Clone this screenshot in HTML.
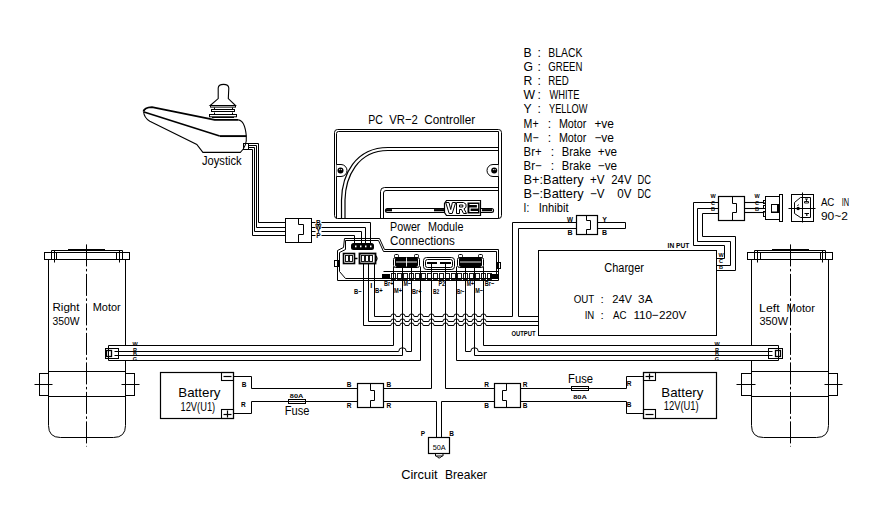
<!DOCTYPE html>
<html><head><meta charset="utf-8"><style>
html,body{margin:0;padding:0;background:#fff;}
svg{display:block;}
text{font-family:"Liberation Sans",sans-serif;fill:#000;stroke:none;}
</style></head><body>
<svg width="890" height="507" viewBox="0 0 890 507">
<rect x="0" y="0" width="890" height="507" fill="#fff"/>
<g stroke="#000" fill="none" stroke-linecap="butt">
<text x="523.6" y="56.5" font-size="12.2" text-anchor="start">B</text>
<text x="537.5" y="56.5" font-size="12.2" text-anchor="start">:</text>
<text x="548.3" y="56.5" font-size="12.2" text-anchor="start" textLength="34" lengthAdjust="spacingAndGlyphs">BLACK</text>
<text x="523.6" y="70.5" font-size="12.2" text-anchor="start">G</text>
<text x="537.5" y="70.5" font-size="12.2" text-anchor="start">:</text>
<text x="548.3" y="70.5" font-size="12.2" text-anchor="start" textLength="34" lengthAdjust="spacingAndGlyphs">GREEN</text>
<text x="523.6" y="84.5" font-size="12.2" text-anchor="start">R</text>
<text x="537.5" y="84.5" font-size="12.2" text-anchor="start">:</text>
<text x="548.3" y="84.5" font-size="12.2" text-anchor="start" textLength="20.5" lengthAdjust="spacingAndGlyphs">RED</text>
<text x="523.6" y="98.5" font-size="12.2" text-anchor="start">W</text>
<text x="537.5" y="98.5" font-size="12.2" text-anchor="start">:</text>
<text x="549.4" y="98.5" font-size="12.2" text-anchor="start" textLength="30" lengthAdjust="spacingAndGlyphs">WHITE</text>
<text x="523.6" y="112.5" font-size="12.2" text-anchor="start">Y</text>
<text x="537.5" y="112.5" font-size="12.2" text-anchor="start">:</text>
<text x="549" y="112.5" font-size="12.2" text-anchor="start" textLength="38.5" lengthAdjust="spacingAndGlyphs">YELLOW</text>
<text x="523.6" y="127.5" font-size="12.2" text-anchor="start" textLength="15" lengthAdjust="spacingAndGlyphs">M+</text>
<text x="547.8" y="127.5" font-size="12.2" text-anchor="start">:</text>
<text x="558.9" y="127.5" font-size="12.2" text-anchor="start" textLength="27.5" lengthAdjust="spacingAndGlyphs">Motor</text>
<text x="594.4" y="127.5" font-size="12.2" text-anchor="start" textLength="19.6" lengthAdjust="spacingAndGlyphs">+ve</text>
<text x="523.6" y="141.5" font-size="12.2" text-anchor="start" textLength="15" lengthAdjust="spacingAndGlyphs">M−</text>
<text x="547.8" y="141.5" font-size="12.2" text-anchor="start">:</text>
<text x="558.9" y="141.5" font-size="12.2" text-anchor="start" textLength="27.5" lengthAdjust="spacingAndGlyphs">Motor</text>
<text x="594.4" y="141.5" font-size="12.2" text-anchor="start" textLength="19.6" lengthAdjust="spacingAndGlyphs">−ve</text>
<text x="523.6" y="155.5" font-size="12.2" text-anchor="start" textLength="18" lengthAdjust="spacingAndGlyphs">Br+</text>
<text x="550.7" y="155.5" font-size="12.2" text-anchor="start">:</text>
<text x="561.8" y="155.5" font-size="12.2" text-anchor="start" textLength="29.3" lengthAdjust="spacingAndGlyphs">Brake</text>
<text x="597.8" y="155.5" font-size="12.2" text-anchor="start" textLength="19.2" lengthAdjust="spacingAndGlyphs">+ve</text>
<text x="523.6" y="169.5" font-size="12.2" text-anchor="start" textLength="18" lengthAdjust="spacingAndGlyphs">Br−</text>
<text x="550.7" y="169.5" font-size="12.2" text-anchor="start">:</text>
<text x="561.8" y="169.5" font-size="12.2" text-anchor="start" textLength="29.3" lengthAdjust="spacingAndGlyphs">Brake</text>
<text x="597.8" y="169.5" font-size="12.2" text-anchor="start" textLength="19.2" lengthAdjust="spacingAndGlyphs">−ve</text>
<text x="523.6" y="183.5" font-size="12.2" text-anchor="start" textLength="60" lengthAdjust="spacingAndGlyphs">B+:Battery</text>
<text x="589.9" y="183.5" font-size="12.2" text-anchor="start" textLength="14.6" lengthAdjust="spacingAndGlyphs">+V</text>
<text x="611.2" y="183.5" font-size="12.2" text-anchor="start" textLength="20.3" lengthAdjust="spacingAndGlyphs">24V</text>
<text x="637.5" y="183.5" font-size="12.2" text-anchor="start" textLength="13.5" lengthAdjust="spacingAndGlyphs">DC</text>
<text x="523.6" y="197.5" font-size="12.2" text-anchor="start" textLength="60" lengthAdjust="spacingAndGlyphs">B−:Battery</text>
<text x="589.9" y="197.5" font-size="12.2" text-anchor="start" textLength="14.6" lengthAdjust="spacingAndGlyphs">−V</text>
<text x="617.3" y="197.5" font-size="12.2" text-anchor="start" textLength="14.2" lengthAdjust="spacingAndGlyphs">0V</text>
<text x="637.5" y="197.5" font-size="12.2" text-anchor="start" textLength="13.5" lengthAdjust="spacingAndGlyphs">DC</text>
<text x="523.6" y="211.5" font-size="12.2" text-anchor="start" textLength="5.6" lengthAdjust="spacingAndGlyphs">I:</text>
<text x="538.7" y="211.5" font-size="12.2" text-anchor="start" textLength="29.8" lengthAdjust="spacingAndGlyphs">Inhibit</text>
<path d="M143.5,111.5 C144,109 148,107.3 152,107.1 L214.7,119.9 L238.4,119.9" stroke-width="1.9" fill="none"/>
<path d="M238.4,119.9 C243,120.5 245.5,127 246.3,136.1 C246.8,142 245,148 240.4,152.4 L202.9,152.4 L196.8,144.4 L149.8,121.3 C146,119 144,116 143.5,111.5" stroke-width="1.1" fill="none"/>
<path d="M144,112 L219.7,136.1" stroke-width="1.6" fill="none"/>
<path d="M219.7,136.1 L246.3,136.1" stroke-width="1.9" fill="none"/>
<path d="M218.2,98.6 L218.2,88 Q218.5,84.4 223.5,84.4 Q228.5,84.4 228.8,88 L228.3,98.6 L235.5,105.5 L210.2,105.5 Z" stroke-width="1.1" fill="none"/>
<rect x="210.5" y="105.5" width="25" height="1.6" stroke-width="1.0" fill="none"/>
<rect x="211.5" y="109.5" width="23" height="2" stroke-width="1.0" fill="none"/>
<rect x="209.5" y="114.5" width="27" height="2.3" stroke-width="1.0" fill="none"/>
<line x1="214.5" y1="107.5" x2="214.5" y2="109.5" stroke-width="1.0"/>
<line x1="232.5" y1="107.5" x2="232.5" y2="109.5" stroke-width="1.0"/>
<line x1="214.5" y1="112.5" x2="214.5" y2="114.5" stroke-width="1.0"/>
<line x1="232.5" y1="112.5" x2="232.5" y2="114.5" stroke-width="1.0"/>
<path d="M212,117.5 L234,117.5" stroke-width="1.0" fill="none"/>
<rect x="243.5" y="143.5" width="5" height="6" rx="0" stroke-width="1.0" fill="none"/>
<text x="202" y="165" font-size="12" text-anchor="start" textLength="39.6" lengthAdjust="spacingAndGlyphs">Joystick</text>
<polyline points="248.5,143.5 258.5,143.5 258.5,222.5 285.5,222.5" stroke-width="1.0"/>
<polyline points="248.5,145.5 256.5,145.5 256.5,227.5 285.5,227.5" stroke-width="1.0"/>
<polyline points="248.5,147.5 254.5,147.5 254.5,231.5 285.5,231.5" stroke-width="1.0"/>
<polyline points="248.5,149.5 252.5,149.5 252.5,235.5 285.5,235.5" stroke-width="1.0"/>
<rect x="285.5" y="218.5" width="26" height="24" rx="0" stroke-width="1.0" fill="none"/>
<polyline points="298.5,218.5 298.5,224.5 303.5,224.5 303.5,234.5 298.5,234.5 298.5,242.5" stroke-width="1.0"/>
<line x1="311.5" y1="222.5" x2="315.5" y2="222.5" stroke-width="1.0"/>
<line x1="311.5" y1="227.5" x2="315.5" y2="227.5" stroke-width="1.0"/>
<line x1="311.5" y1="231.5" x2="315.5" y2="231.5" stroke-width="1.0"/>
<line x1="311.5" y1="235.5" x2="315.5" y2="235.5" stroke-width="1.0"/>
<polyline points="321.5,222.5 370.5,222.5 370.5,243.5" stroke-width="1.0"/>
<polyline points="321.5,227.5 365.5,227.5 365.5,243.5" stroke-width="1.0"/>
<polyline points="321.5,231.5 361.5,231.5 361.5,243.5" stroke-width="1.0"/>
<polyline points="321.5,235.5 354.5,235.5 354.5,243.5" stroke-width="1.0"/>
<text x="318.3" y="224.5" font-size="6.5" text-anchor="middle" font-weight="bold">B</text>
<text x="318.3" y="229" font-size="6.5" text-anchor="middle" font-weight="bold">W</text>
<text x="318.3" y="233" font-size="6.5" text-anchor="middle" font-weight="bold">Y</text>
<text x="318.3" y="237.5" font-size="6.5" text-anchor="middle" font-weight="bold">P</text>
<text x="368.3" y="123.6" font-size="13" text-anchor="start" textLength="14.6" lengthAdjust="spacingAndGlyphs">PC</text>
<text x="389.2" y="123.6" font-size="13" text-anchor="start" textLength="28.6" lengthAdjust="spacingAndGlyphs">VR−2</text>
<text x="424.2" y="123.6" font-size="13" text-anchor="start" textLength="51" lengthAdjust="spacingAndGlyphs">Controller</text>
<rect x="334.5" y="129.5" width="167" height="89" rx="3" stroke-width="1.0" fill="none"/>
<path d="M336.5,218.5 L336.5,133.5 Q336.5,131.5 338.5,131.5 L498.5,131.5 L498.5,218.5" stroke-width="1.0" fill="none"/>
<path d="M341.5,218.5 L341.5,200 C342,175 355,147.5 388,147.5 L498.5,147.5" stroke-width="1.2" fill="none"/>
<path d="M345,218.5 L345,200 C345.5,177 357.5,150.5 388,150.5 L498.5,150.5" stroke-width="1.2" fill="none"/>
<path d="M380.5,218.5 L380.5,191.5 Q380.5,187.5 384.5,187.5 L498.5,187.5" stroke-width="1.0" fill="none"/>
<path d="M383.5,218.5 L383.5,193 Q383.5,190.5 386,190.5 L498.5,190.5" stroke-width="1.0" fill="none"/>
<path d="M336.5,164.5 L341,164.5 A6,6 0 0 1 341,176.5 L336.5,176.5" stroke-width="1.0" fill="#fff"/>
<path d="M498.5,164.5 L493,164.5 A6,6 0 0 0 493,176.5 L498.5,176.5" stroke-width="1.0" fill="#fff"/>
<circle cx="340.5" cy="170.5" r="3" stroke="none" fill="#000"/>
<circle cx="339.7" cy="169.6" r="0.6" stroke="none" fill="#fff"/>
<circle cx="341.4" cy="169.6" r="0.6" stroke="none" fill="#fff"/>
<circle cx="494.2" cy="170.5" r="3" stroke="none" fill="#000"/>
<circle cx="493.4" cy="169.6" r="0.6" stroke="none" fill="#fff"/>
<circle cx="495.09999999999997" cy="169.6" r="0.6" stroke="none" fill="#fff"/>
<rect x="385.5" y="208.5" width="108" height="4" rx="1.9" stroke-width="1.2" fill="none"/>
<path d="M386,210.2 L392,210.2" stroke-width="2.2" fill="none"/>
<path d="M434,210.2 L444,210.2" stroke-width="2.2" fill="none"/>
<path d="M482,210.2 L492,210.2" stroke-width="2.2" fill="none"/>
<path d="M446.5,200.5 L480.5,200.5 L480.5,215.5 L446.5,215.5 L444.5,212.5 L444.5,203.5 Z" stroke-width="1.2" fill="#fff"/>
<path d="M445.7,202.5 L449,202.5 L450.7,209.5 L452.4,202.5 L455.7,202.5 L452.2,213.5 L449.2,213.5 Z" stroke-width="1.0" fill="none"/>
<path d="M456.5,202.5 L463.5,202.5 L466,204.2 L466,207.3 L464,208.8 L466.5,213.5 L463.5,213.5 L461.5,209.5 L459.5,209.5 L459.5,213.5 L456.5,213.5 Z M459.5,205 L462.8,205 L462.8,207 L459.5,207 Z" stroke-width="1.0" fill="none"/>
<rect x="467.5" y="202.5" width="12" height="11" fill="#000" stroke="none"/>
<path d="M469.5,204.5 L477.5,204.5 L477.5,208 L470,208 L470,211.5 L478,211.5" stroke="#fff" stroke-width="1.2" fill="none"/>
<text x="390.1" y="231.4" font-size="12" text-anchor="start" textLength="30.3" lengthAdjust="spacingAndGlyphs">Power</text>
<text x="428" y="231.4" font-size="12" text-anchor="start" textLength="35.4" lengthAdjust="spacingAndGlyphs">Module</text>
<text x="390.1" y="245.4" font-size="12" text-anchor="start" textLength="64.7" lengthAdjust="spacingAndGlyphs">Connections</text>
<path d="M344.5,238.5 L379.5,238.5 L384.5,249.5 L498.5,249.5 L498.5,280.5 L337.5,280.5 L337.5,250.5 L343.5,247.5 Z" stroke-width="1.0" fill="none"/>
<path d="M345.5,240.5 L378.5,240.5 L383.5,251.5 L496.5,251.5 L496.5,278.5 L345.5,278.5 L339.5,271.5 L339.5,252.5 L345.5,249.5 Z" stroke-width="1.0" fill="none"/>
<rect x="334.5" y="260.5" width="4" height="6" rx="0" stroke-width="1.0" fill="none"/>
<rect x="497.5" y="262.5" width="3" height="6" rx="0" stroke-width="1.0" fill="none"/>
<line x1="383.5" y1="271.5" x2="498.5" y2="271.5" stroke-width="1.0"/>
<rect x="382" y="274" width="8" height="5" rx="0" stroke-width="0" fill="#000"/>
<rect x="490" y="274" width="8" height="5" rx="0" stroke-width="0" fill="#000"/>
<rect x="391.5" y="273.5" width="4" height="6" rx="0" stroke-width="0.9" fill="none"/>
<rect x="397.5" y="273.5" width="4" height="6" rx="0" stroke-width="0.9" fill="none"/>
<rect x="403.5" y="273.5" width="4" height="6" rx="0" stroke-width="0.9" fill="none"/>
<rect x="409.5" y="273.5" width="4" height="6" rx="0" stroke-width="0.9" fill="none"/>
<rect x="415.5" y="273.5" width="4" height="6" rx="0" stroke-width="0.9" fill="none"/>
<rect x="421.5" y="273.5" width="4" height="6" rx="0" stroke-width="0.9" fill="none"/>
<rect x="427.5" y="273.5" width="4" height="6" rx="0" stroke-width="0.9" fill="none"/>
<rect x="433.5" y="273.5" width="4" height="6" rx="0" stroke-width="0.9" fill="none"/>
<rect x="439.5" y="273.5" width="4" height="6" rx="0" stroke-width="0.9" fill="none"/>
<rect x="445.5" y="273.5" width="4" height="6" rx="0" stroke-width="0.9" fill="none"/>
<rect x="451.5" y="273.5" width="4" height="6" rx="0" stroke-width="0.9" fill="none"/>
<rect x="457.5" y="273.5" width="4" height="6" rx="0" stroke-width="0.9" fill="none"/>
<rect x="463.5" y="273.5" width="4" height="6" rx="0" stroke-width="0.9" fill="none"/>
<rect x="469.5" y="273.5" width="4" height="6" rx="0" stroke-width="0.9" fill="none"/>
<rect x="475.5" y="273.5" width="4" height="6" rx="0" stroke-width="0.9" fill="none"/>
<rect x="481.5" y="273.5" width="4" height="6" rx="0" stroke-width="0.9" fill="none"/>
<rect x="487.5" y="273.5" width="4" height="6" rx="0" stroke-width="0.9" fill="none"/>
<rect x="351" y="243" width="23" height="7" rx="2.5" stroke-width="0" fill="#000"/>
<rect x="355" y="245.5" width="1.5" height="1.8" fill="#fff" stroke="none"/>
<rect x="360" y="245.5" width="1.5" height="1.8" fill="#fff" stroke="none"/>
<rect x="365" y="245.5" width="1.5" height="1.8" fill="#fff" stroke="none"/>
<rect x="370" y="245.5" width="1.5" height="1.8" fill="#fff" stroke="none"/>
<rect x="343.5" y="253.5" width="11" height="10" rx="0" stroke-width="1.6" fill="none"/>
<rect x="345.5" y="255.5" width="3" height="6" rx="0" stroke-width="0.9" fill="none"/>
<rect x="349.5" y="255.5" width="3" height="6" rx="0" stroke-width="0.9" fill="none"/>
<line x1="354.5" y1="258.5" x2="357.5" y2="258.5" stroke-width="1.5"/>
<rect x="359.5" y="253.5" width="16" height="10" rx="0" stroke-width="1.8" fill="none"/>
<rect x="361.5" y="255.5" width="3" height="6" rx="0" stroke-width="0.9" fill="none"/>
<rect x="365.5" y="255.5" width="3" height="6" rx="0" stroke-width="0.9" fill="none"/>
<rect x="369.5" y="255.5" width="3" height="6" rx="0" stroke-width="0.9" fill="none"/>
<path d="M375.5,255.5 Q378.5,258.4 375.5,261.3" stroke-width="1.3" fill="none"/>
<rect x="393.5" y="257.5" width="26" height="10" rx="2" stroke-width="1.0" fill="none"/>
<rect x="395" y="257" width="23" height="10" rx="2" fill="#000" stroke="none"/>
<rect x="394.5" y="254.5" width="4" height="3" rx="1" stroke-width="1.0" fill="none"/>
<rect x="414.5" y="254.5" width="4" height="3" rx="1" stroke-width="1.0" fill="none"/>
<line x1="396" y1="262" x2="417" y2="262" stroke="#fff" stroke-width="0.9"/>
<line x1="406.5" y1="257.5" x2="406.5" y2="266.5" stroke="#fff" stroke-width="0.9"/>
<rect x="457.5" y="257.5" width="26" height="10" rx="2" stroke-width="1.0" fill="none"/>
<rect x="459" y="257" width="23" height="10" rx="2" fill="#000" stroke="none"/>
<rect x="458.5" y="254.5" width="4" height="3" rx="1" stroke-width="1.0" fill="none"/>
<rect x="478.5" y="254.5" width="4" height="3" rx="1" stroke-width="1.0" fill="none"/>
<line x1="460" y1="262" x2="481" y2="262" stroke="#fff" stroke-width="0.9"/>
<rect x="423.5" y="257.5" width="31" height="12" rx="3" stroke-width="1.0" fill="none"/>
<rect x="425.5" y="259.5" width="27" height="8" rx="2" stroke-width="1.0" fill="none"/>
<rect x="427" y="262" width="10" height="2" fill="#000" stroke="none"/>
<rect x="440" y="262" width="11" height="2" fill="#000" stroke="none"/>
<text x="354" y="293.7" font-size="7.3" text-anchor="start" font-weight="bold" textLength="7.6" lengthAdjust="spacingAndGlyphs">B−</text>
<text x="370.2" y="287.6" font-size="7.3" text-anchor="start" font-weight="bold">I</text>
<text x="375.1" y="292.8" font-size="7.3" text-anchor="start" font-weight="bold" textLength="7.7" lengthAdjust="spacingAndGlyphs">B+</text>
<text x="384.1" y="285.5" font-size="7.3" text-anchor="start" font-weight="bold" textLength="9.4" lengthAdjust="spacingAndGlyphs">Br+</text>
<text x="394" y="293.3" font-size="7.3" text-anchor="start" font-weight="bold" textLength="8" lengthAdjust="spacingAndGlyphs">M+</text>
<text x="403.4" y="285.8" font-size="7.3" text-anchor="start" font-weight="bold" textLength="7.6" lengthAdjust="spacingAndGlyphs">M−</text>
<text x="412" y="293.5" font-size="7.3" text-anchor="start" font-weight="bold" textLength="9.4" lengthAdjust="spacingAndGlyphs">Br+</text>
<text x="433" y="294.3" font-size="7.3" text-anchor="start" font-weight="bold" textLength="6.3" lengthAdjust="spacingAndGlyphs">B2</text>
<text x="438.4" y="286.2" font-size="7.3" text-anchor="start" font-weight="bold" textLength="6.8" lengthAdjust="spacingAndGlyphs">P2</text>
<text x="456.9" y="293.5" font-size="7.3" text-anchor="start" font-weight="bold" textLength="7.6" lengthAdjust="spacingAndGlyphs">Br−</text>
<text x="466.7" y="285.5" font-size="7.3" text-anchor="start" font-weight="bold" textLength="7.3" lengthAdjust="spacingAndGlyphs">M+</text>
<text x="475.3" y="293" font-size="7.3" text-anchor="start" font-weight="bold" textLength="7.7" lengthAdjust="spacingAndGlyphs">M−</text>
<text x="484.7" y="286" font-size="7.3" text-anchor="start" font-weight="bold" textLength="9.5" lengthAdjust="spacingAndGlyphs">Br−</text>
<polyline points="374.5,263.5 374.5,316.5" stroke-width="1.0"/>
<polyline points="368.5,263.5 368.5,321.5" stroke-width="1.0"/>
<polyline points="363.5,263.5 363.5,325.5" stroke-width="1.0"/>
<path d="M374.5,316.5 L390.9,316.5 A2.6,2.6 0 0 1 396.1,316.5 L399.9,316.5 A2.6,2.6 0 0 1 405.1,316.5 L408.9,316.5 A2.6,2.6 0 0 1 414.1,316.5 L417.9,316.5 A2.6,2.6 0 0 1 423.1,316.5 L428.9,316.5 A2.6,2.6 0 0 1 434.1,316.5 L442.9,316.5 A2.6,2.6 0 0 1 448.1,316.5 L453.9,316.5 A2.6,2.6 0 0 1 459.1,316.5 L462.9,316.5 A2.6,2.6 0 0 1 468.1,316.5 L471.9,316.5 A2.6,2.6 0 0 1 477.1,316.5 L480.9,316.5 A2.6,2.6 0 0 1 486.1,316.5 L512.5,316.5" stroke-width="1.0" fill="none"/>
<path d="M368.5,321.5 L390.9,321.5 A2.6,2.6 0 0 1 396.1,321.5 L399.9,321.5 A2.6,2.6 0 0 1 405.1,321.5 L408.9,321.5 A2.6,2.6 0 0 1 414.1,321.5 L417.9,321.5 A2.6,2.6 0 0 1 423.1,321.5 L428.9,321.5 A2.6,2.6 0 0 1 434.1,321.5 L442.9,321.5 A2.6,2.6 0 0 1 448.1,321.5 L453.9,321.5 A2.6,2.6 0 0 1 459.1,321.5 L462.9,321.5 A2.6,2.6 0 0 1 468.1,321.5 L471.9,321.5 A2.6,2.6 0 0 1 477.1,321.5 L480.9,321.5 A2.6,2.6 0 0 1 486.1,321.5 L538.5,321.5" stroke-width="1.0" fill="none"/>
<path d="M363.5,325.5 L390.9,325.5 A2.6,2.6 0 0 1 396.1,325.5 L399.9,325.5 A2.6,2.6 0 0 1 405.1,325.5 L408.9,325.5 A2.6,2.6 0 0 1 414.1,325.5 L417.9,325.5 A2.6,2.6 0 0 1 423.1,325.5 L428.9,325.5 A2.6,2.6 0 0 1 434.1,325.5 L442.9,325.5 A2.6,2.6 0 0 1 448.1,325.5 L453.9,325.5 A2.6,2.6 0 0 1 459.1,325.5 L462.9,325.5 A2.6,2.6 0 0 1 468.1,325.5 L471.9,325.5 A2.6,2.6 0 0 1 477.1,325.5 L480.9,325.5 A2.6,2.6 0 0 1 486.1,325.5 L538.5,325.5" stroke-width="1.0" fill="none"/>
<polyline points="512.5,316.5 512.5,222.5 576.5,222.5" stroke-width="1.0"/>
<polyline points="538.5,316.5 518.5,316.5 518.5,228.5 576.5,228.5" stroke-width="1.0"/>
<line x1="393.5" y1="266.5" x2="393.5" y2="345.5" stroke-width="1.0"/>
<line x1="402.5" y1="266.5" x2="402.5" y2="355.5" stroke-width="1.0"/>
<line x1="411.5" y1="266.5" x2="411.5" y2="351.5" stroke-width="1.0"/>
<line x1="420.5" y1="266.5" x2="420.5" y2="360.5" stroke-width="1.0"/>
<line x1="456.5" y1="266.5" x2="456.5" y2="360.5" stroke-width="1.0"/>
<line x1="465.5" y1="266.5" x2="465.5" y2="351.5" stroke-width="1.0"/>
<line x1="474.5" y1="266.5" x2="474.5" y2="355.5" stroke-width="1.0"/>
<line x1="483.5" y1="266.5" x2="483.5" y2="345.5" stroke-width="1.0"/>
<line x1="431.5" y1="263.5" x2="431.5" y2="388.5" stroke-width="1.0"/>
<line x1="445.5" y1="263.5" x2="445.5" y2="388.5" stroke-width="1.0"/>
<rect x="68" y="249" width="37" height="1.5" fill="#000" stroke="none"/>
<polyline points="51.5,259.5 51.5,250.5 122.5,250.5 122.5,259.5" stroke-width="1.0"/>
<rect x="44.5" y="252.5" width="85" height="7" rx="0" stroke-width="1.0" fill="none"/>
<line x1="54.5" y1="250.5" x2="54.5" y2="262.5" stroke-width="1.0"/>
<line x1="119.5" y1="250.5" x2="119.5" y2="262.5" stroke-width="1.0"/>
<line x1="56.5" y1="252.5" x2="56.5" y2="259.5" stroke-width="1.0"/>
<line x1="116.5" y1="252.5" x2="116.5" y2="259.5" stroke-width="1.0"/>
<path d="M48.5,259.5 L48.5,425.5 Q48.5,437.5 60.5,437.5 L113.5,437.5 Q125.5,437.5 125.5,425.5 L125.5,259.5" stroke-width="1.0" fill="none"/>
<line x1="48.5" y1="371.5" x2="125.5" y2="371.5" stroke-width="1.0"/>
<line x1="48.5" y1="396.5" x2="125.5" y2="396.5" stroke-width="1.0"/>
<rect x="39.5" y="373.5" width="9" height="22" rx="0" stroke-width="1.0" fill="none"/>
<rect x="125.5" y="373.5" width="9" height="22" rx="0" stroke-width="1.0" fill="none"/>
<line x1="34.5" y1="384.5" x2="52.5" y2="384.5" stroke-width="1.0"/>
<line x1="121.5" y1="384.5" x2="139.5" y2="384.5" stroke-width="1.0"/>
<line x1="86.5" y1="244.4" x2="86.5" y2="446.5" stroke-width="1.0" stroke-dasharray="22,2.5,2.5,2.5"/>
<rect x="772" y="249" width="37" height="1.5" fill="#000" stroke="none"/>
<polyline points="754.5,259.5 754.5,250.5 825.5,250.5 825.5,259.5" stroke-width="1.0"/>
<rect x="747.5" y="252.5" width="85" height="7" rx="0" stroke-width="1.0" fill="none"/>
<line x1="757.5" y1="250.5" x2="757.5" y2="262.5" stroke-width="1.0"/>
<line x1="822.5" y1="250.5" x2="822.5" y2="262.5" stroke-width="1.0"/>
<line x1="760.5" y1="252.5" x2="760.5" y2="259.5" stroke-width="1.0"/>
<line x1="820.5" y1="252.5" x2="820.5" y2="259.5" stroke-width="1.0"/>
<path d="M751.5,259.5 L751.5,425.5 Q751.5,437.5 763.5,437.5 L816.5,437.5 Q828.5,437.5 828.5,425.5 L828.5,259.5" stroke-width="1.0" fill="none"/>
<line x1="751.5" y1="371.5" x2="828.5" y2="371.5" stroke-width="1.0"/>
<line x1="751.5" y1="396.5" x2="828.5" y2="396.5" stroke-width="1.0"/>
<rect x="741.5" y="373.5" width="10" height="22" rx="0" stroke-width="1.0" fill="none"/>
<rect x="828.5" y="373.5" width="9" height="22" rx="0" stroke-width="1.0" fill="none"/>
<line x1="736.5" y1="384.5" x2="755.5" y2="384.5" stroke-width="1.0"/>
<line x1="824.5" y1="384.5" x2="842.5" y2="384.5" stroke-width="1.0"/>
<line x1="790.5" y1="244.4" x2="790.5" y2="446.5" stroke-width="1.0" stroke-dasharray="22,2.5,2.5,2.5"/>
<rect x="109" y="346" width="40" height="14" fill="#fff" stroke="none"/>
<rect x="735" y="346" width="42" height="14" fill="#fff" stroke="none"/>
<polyline points="393.5,345.5 108.5,345.5 108.5,360.5 420.5,360.5" stroke-width="1.0"/>
<path d="M114.5,351.5 L398.7,351.5 A3.8,3.8 0 0 1 406.3,351.5 L411.5,351.5" stroke-width="1.0" fill="none"/>
<line x1="114.5" y1="355.5" x2="402.5" y2="355.5" stroke-width="1.0"/>
<rect x="105.5" y="348.5" width="13" height="10" rx="0" stroke-width="1.0" fill="none"/>
<rect x="106.5" y="350.5" width="5" height="6" rx="0" stroke-width="1.3" fill="none"/>
<polyline points="483.5,345.5 778.5,345.5 778.5,360.5 456.5,360.5" stroke-width="1.0"/>
<path d="M465.5,351.5 L470.7,351.5 A3.8,3.8 0 0 1 478.3,351.5 L772.5,351.5" stroke-width="1.0" fill="none"/>
<line x1="474.5" y1="355.5" x2="772.5" y2="355.5" stroke-width="1.0"/>
<rect x="768.5" y="348.5" width="14" height="10" rx="0" stroke-width="1.0" fill="none"/>
<rect x="775.5" y="350.5" width="5" height="6" rx="0" stroke-width="1.3" fill="none"/>
<text x="135" y="346" font-size="5.5" text-anchor="middle" font-weight="bold">W</text>
<text x="135" y="351.5" font-size="5.5" text-anchor="middle" font-weight="bold">R</text>
<text x="135" y="356" font-size="5.5" text-anchor="middle" font-weight="bold">B</text>
<text x="135" y="360.5" font-size="5.5" text-anchor="middle" font-weight="bold">G</text>
<text x="717" y="346" font-size="5.5" text-anchor="middle" font-weight="bold">W</text>
<text x="717" y="351.5" font-size="5.5" text-anchor="middle" font-weight="bold">R</text>
<text x="717" y="356" font-size="5.5" text-anchor="middle" font-weight="bold">B</text>
<text x="717" y="360.5" font-size="5.5" text-anchor="middle" font-weight="bold">G</text>
<text x="52.5" y="310.5" font-size="11.5" text-anchor="start" textLength="27" lengthAdjust="spacingAndGlyphs">Right</text>
<text x="92.7" y="310.5" font-size="11.5" text-anchor="start" textLength="28" lengthAdjust="spacingAndGlyphs">Motor</text>
<text x="52.5" y="324.5" font-size="11.5" text-anchor="start" textLength="27" lengthAdjust="spacingAndGlyphs">350W</text>
<text x="759.1" y="311.5" font-size="11.5" text-anchor="start" textLength="20.5" lengthAdjust="spacingAndGlyphs">Left</text>
<text x="786.5" y="311.5" font-size="11.5" text-anchor="start" textLength="28.5" lengthAdjust="spacingAndGlyphs">Motor</text>
<text x="759.4" y="325" font-size="11.5" text-anchor="start" textLength="28.6" lengthAdjust="spacingAndGlyphs">350W</text>
<rect x="538.5" y="250.5" width="178" height="85" rx="0" stroke-width="1.0" fill="none"/>
<text x="604.3" y="272.3" font-size="12" text-anchor="start" textLength="39.6" lengthAdjust="spacingAndGlyphs">Charger</text>
<text x="573.7" y="303.4" font-size="11.8" text-anchor="start" textLength="20.6" lengthAdjust="spacingAndGlyphs">OUT</text>
<text x="600.5" y="303.4" font-size="11.8" text-anchor="start">:</text>
<text x="612.2" y="303.4" font-size="11.8" text-anchor="start" textLength="19.9" lengthAdjust="spacingAndGlyphs">24V</text>
<text x="638.1" y="303.4" font-size="11.8" text-anchor="start" textLength="14.4" lengthAdjust="spacingAndGlyphs">3A</text>
<text x="584.7" y="318.7" font-size="11.8" text-anchor="start" textLength="9.6" lengthAdjust="spacingAndGlyphs">IN</text>
<text x="600.5" y="318.7" font-size="11.8" text-anchor="start">:</text>
<text x="613" y="318.7" font-size="11.8" text-anchor="start" textLength="13.5" lengthAdjust="spacingAndGlyphs">AC</text>
<text x="633.4" y="318.7" font-size="11.8" text-anchor="start" textLength="53" lengthAdjust="spacingAndGlyphs">110−220V</text>
<text x="511.5" y="335.5" font-size="7" text-anchor="start" font-weight="bold" textLength="24" lengthAdjust="spacingAndGlyphs">OUTPUT</text>
<text x="667.6" y="247.5" font-size="7" text-anchor="start" font-weight="bold" textLength="21.8" lengthAdjust="spacingAndGlyphs">IN PUT</text>
<rect x="576.5" y="215.5" width="21" height="19" rx="0" stroke-width="1.2" fill="none"/>
<polyline points="586.5,215.5 586.5,220.5 590.5,220.5 590.5,229.5 586.5,229.5 586.5,234.5" stroke-width="1.0"/>
<polyline points="597.5,222.5 625.5,222.5 625.5,228.5 597.5,228.5" stroke-width="1.0"/>
<text x="570" y="221.8" font-size="7" text-anchor="middle" font-weight="bold" textLength="6" lengthAdjust="spacingAndGlyphs">W</text>
<text x="570" y="235.3" font-size="7" text-anchor="middle" font-weight="bold">B</text>
<text x="604.6" y="221.8" font-size="7" text-anchor="middle" font-weight="bold">Y</text>
<text x="604.6" y="235.3" font-size="7" text-anchor="middle" font-weight="bold">B</text>
<rect x="718.5" y="196.5" width="26" height="24" rx="0" stroke-width="1.2" fill="none"/>
<polyline points="732.5,196.5 732.5,203.5 736.5,203.5 736.5,212.5 732.5,212.5 732.5,220.5" stroke-width="1.0"/>
<polyline points="718.5,202.5 693.5,202.5 693.5,245.5 724.5,245.5 724.5,258.5 716.5,258.5" stroke-width="1.0"/>
<polyline points="718.5,208.5 697.5,208.5 697.5,241.5 730.5,241.5 730.5,265.5 716.5,265.5" stroke-width="1.0"/>
<polyline points="718.5,213.5 702.5,213.5 702.5,236.5 735.5,236.5 735.5,270.5 716.5,270.5" stroke-width="1.0"/>
<text x="713" y="198" font-size="5.5" text-anchor="middle" font-weight="bold">W</text>
<text x="713" y="205" font-size="5.5" text-anchor="middle" font-weight="bold">C</text>
<text x="713" y="211" font-size="5.5" text-anchor="middle" font-weight="bold">B</text>
<text x="721" y="257" font-size="5.5" text-anchor="middle" font-weight="bold">W</text>
<text x="721" y="263" font-size="5.5" text-anchor="middle" font-weight="bold">C</text>
<text x="721" y="269" font-size="5.5" text-anchor="middle" font-weight="bold">B</text>
<line x1="744.5" y1="202.5" x2="764.5" y2="202.5" stroke-width="1.1"/>
<line x1="744.5" y1="208.5" x2="764.5" y2="208.5" stroke-width="1.1"/>
<line x1="744.5" y1="212.5" x2="764.5" y2="212.5" stroke-width="1.1"/>
<text x="757" y="198" font-size="5.5" text-anchor="middle" font-weight="bold">W</text>
<text x="757" y="205" font-size="5.5" text-anchor="middle" font-weight="bold">C</text>
<text x="757" y="211" font-size="5.5" text-anchor="middle" font-weight="bold">B</text>
<rect x="765.5" y="196.5" width="14" height="23" rx="0" stroke-width="1.0" fill="none"/>
<rect x="779.5" y="194.5" width="3" height="27" rx="0" stroke-width="1.0" fill="none"/>
<rect x="763.5" y="200.5" width="2" height="3" rx="0" stroke-width="1.0" fill="none"/>
<rect x="763.5" y="205.5" width="2" height="3" rx="0" stroke-width="1.0" fill="none"/>
<rect x="763.5" y="211.5" width="2" height="5" rx="0" stroke-width="1.0" fill="none"/>
<rect x="771.5" y="204.5" width="6" height="8" rx="0" stroke-width="1.0" fill="none"/>
<rect x="777" y="204" width="2" height="9" fill="#000" stroke="none"/>
<rect x="771" y="211.5" width="7" height="1.5" fill="#000" stroke="none"/>
<rect x="791.5" y="194.5" width="22" height="27" rx="0" stroke-width="1.0" fill="none"/>
<line x1="802.5" y1="192.5" x2="802.5" y2="222.5" stroke-width="1.0"/>
<line x1="788.5" y1="208.5" x2="815.5" y2="208.5" stroke-width="1.0"/>
<path d="M800.5,197.5 L810.5,197.5 L810.5,217.5 L800.5,217.5 L794.5,213.5 L794.5,202.5 Z" stroke-width="1.0" fill="none"/>
<circle cx="798.1" cy="208.5" r="1.7" fill="#000" stroke="none"/>
<path d="M797.5,206 L798.5,204.5" stroke-width="1.0" fill="none"/>
<path d="M805,199 L808,199 M806.5,199 L806.5,201.5 M804.5,201.5 L808.5,201.5 L808.5,203 L804.5,203 Z" stroke-width="0.9" fill="none"/>
<path d="M804.5,213.5 L809,213.5 M806.8,213.5 L806.8,216" stroke-width="1.2" fill="none"/>
<text x="820.9" y="206" font-size="11.5" text-anchor="start" textLength="13.5" lengthAdjust="spacingAndGlyphs">AC</text>
<text x="841.8" y="206" font-size="11.5" text-anchor="start" textLength="7.4" lengthAdjust="spacingAndGlyphs">IN</text>
<text x="820.9" y="219.5" font-size="11.5" text-anchor="start" textLength="27" lengthAdjust="spacingAndGlyphs">90~2</text>
<rect x="160.5" y="372.5" width="73" height="46" rx="0" stroke-width="1.2" fill="none"/>
<rect x="221.5" y="372.5" width="12" height="8" rx="0" stroke-width="1.1" fill="none"/>
<rect x="221.5" y="409.5" width="12" height="9" rx="0" stroke-width="1.1" fill="none"/>
<rect x="643.5" y="372.5" width="73" height="46" rx="0" stroke-width="1.2" fill="none"/>
<rect x="643.5" y="372.5" width="12" height="8" rx="0" stroke-width="1.1" fill="none"/>
<rect x="643.5" y="409.5" width="12" height="9" rx="0" stroke-width="1.1" fill="none"/>
<line x1="223.5" y1="376.5" x2="231.5" y2="376.5" stroke-width="1.2"/>
<line x1="223.5" y1="414.5" x2="231.5" y2="414.5" stroke-width="1.2"/>
<line x1="227.5" y1="410.5" x2="227.5" y2="417.5" stroke-width="1.2"/>
<line x1="645.5" y1="376.5" x2="653.5" y2="376.5" stroke-width="1.2"/>
<line x1="649.5" y1="373.5" x2="649.5" y2="379.5" stroke-width="1.2"/>
<line x1="645.5" y1="414.5" x2="653.5" y2="414.5" stroke-width="1.2"/>
<text x="178.3" y="396.9" font-size="13.5" text-anchor="start" textLength="42.2" lengthAdjust="spacingAndGlyphs">Battery</text>
<text x="180.5" y="411.2" font-size="12" text-anchor="start" textLength="34.7" lengthAdjust="spacingAndGlyphs">12V(U1)</text>
<text x="661.3" y="397.3" font-size="13.5" text-anchor="start" textLength="42.1" lengthAdjust="spacingAndGlyphs">Battery</text>
<text x="663.7" y="409.8" font-size="12" text-anchor="start" textLength="35" lengthAdjust="spacingAndGlyphs">12V(U1)</text>
<polyline points="233.5,376.5 251.5,376.5 251.5,388.5 357.5,388.5" stroke-width="1.0"/>
<polyline points="233.5,413.5 251.5,413.5 251.5,401.5 357.5,401.5" stroke-width="1.0"/>
<rect x="288.5" y="399.5" width="17" height="4" rx="0" stroke-width="1.0" fill="none"/>
<line x1="290.5" y1="401.5" x2="304.5" y2="401.5" stroke-width="0.8"/>
<text x="296.6" y="397.7" font-size="6.2" text-anchor="middle" font-weight="bold" textLength="13.5" lengthAdjust="spacingAndGlyphs">80A</text>
<text x="284.8" y="415.4" font-size="12" text-anchor="start" textLength="24.7" lengthAdjust="spacingAndGlyphs">Fuse</text>
<text x="244" y="387" font-size="6.5" text-anchor="middle" font-weight="bold">B</text>
<text x="243.4" y="407" font-size="6.5" text-anchor="middle" font-weight="bold">R</text>
<rect x="357.5" y="383.5" width="26" height="24" rx="0" stroke-width="1.2" fill="none"/>
<polyline points="370.5,383.5 370.5,390.5 374.5,390.5 374.5,400.5 370.5,400.5 370.5,407.5" stroke-width="1.0"/>
<polyline points="383.5,388.5 431.5,388.5 431.5,388.5" stroke-width="1.0"/>
<polyline points="383.5,401.5 436.5,401.5 436.5,437.5" stroke-width="1.0"/>
<text x="349" y="386.5" font-size="6.5" text-anchor="middle" font-weight="bold">B</text>
<text x="388.8" y="386.5" font-size="6.5" text-anchor="middle" font-weight="bold">B</text>
<text x="349" y="407.5" font-size="6.5" text-anchor="middle" font-weight="bold">R</text>
<text x="388.8" y="407.5" font-size="6.5" text-anchor="middle" font-weight="bold">R</text>
<rect x="494.5" y="383.5" width="26" height="24" rx="0" stroke-width="1.2" fill="none"/>
<polyline points="506.5,383.5 506.5,390.5 502.5,390.5 502.5,400.5 506.5,400.5 506.5,407.5" stroke-width="1.0"/>
<polyline points="445.5,388.5 494.5,388.5" stroke-width="1.0"/>
<polyline points="441.5,437.5 441.5,401.5 494.5,401.5" stroke-width="1.0"/>
<text x="486.6" y="386.5" font-size="6.5" text-anchor="middle" font-weight="bold">R</text>
<text x="525" y="386.5" font-size="6.5" text-anchor="middle" font-weight="bold">R</text>
<text x="486.6" y="407.5" font-size="6.5" text-anchor="middle" font-weight="bold">B</text>
<text x="525" y="407.5" font-size="6.5" text-anchor="middle" font-weight="bold">B</text>
<polyline points="520.5,388.5 626.5,388.5 626.5,376.5 643.5,376.5" stroke-width="1.0"/>
<polyline points="520.5,401.5 626.5,401.5 626.5,413.5 643.5,413.5" stroke-width="1.0"/>
<rect x="571.5" y="386.5" width="17" height="4" rx="0" stroke-width="1.0" fill="none"/>
<line x1="573.5" y1="388.5" x2="587.5" y2="388.5" stroke-width="0.8"/>
<text x="580" y="398.8" font-size="6.2" text-anchor="middle" font-weight="bold" textLength="13.5" lengthAdjust="spacingAndGlyphs">80A</text>
<text x="568.1" y="382.6" font-size="12" text-anchor="start" textLength="25" lengthAdjust="spacingAndGlyphs">Fuse</text>
<text x="629" y="386" font-size="6.5" text-anchor="middle" font-weight="bold">R</text>
<text x="629" y="407" font-size="6.5" text-anchor="middle" font-weight="bold">B</text>
<rect x="428.5" y="437.5" width="21" height="16" rx="0" stroke-width="1.2" fill="none"/>
<text x="439.2" y="449.5" font-size="8" text-anchor="middle" textLength="13" lengthAdjust="spacingAndGlyphs">50A</text>
<path d="M435.5,453.3 L435.5,456 L443,456 L443,453.3" stroke-width="1.0" fill="none"/>
<path d="M436.5,456 Q439.2,460 442,456" stroke-width="1.0" fill="none"/>
<text x="423" y="436" font-size="6.5" text-anchor="middle" font-weight="bold">P</text>
<text x="451.5" y="436" font-size="6.5" text-anchor="middle" font-weight="bold">B</text>
<text x="401.2" y="478.5" font-size="12.8" text-anchor="start" textLength="36.4" lengthAdjust="spacingAndGlyphs">Circuit</text>
<text x="445.1" y="478.5" font-size="12.8" text-anchor="start" textLength="42" lengthAdjust="spacingAndGlyphs">Breaker</text>
</g>
</svg>
</body></html>
